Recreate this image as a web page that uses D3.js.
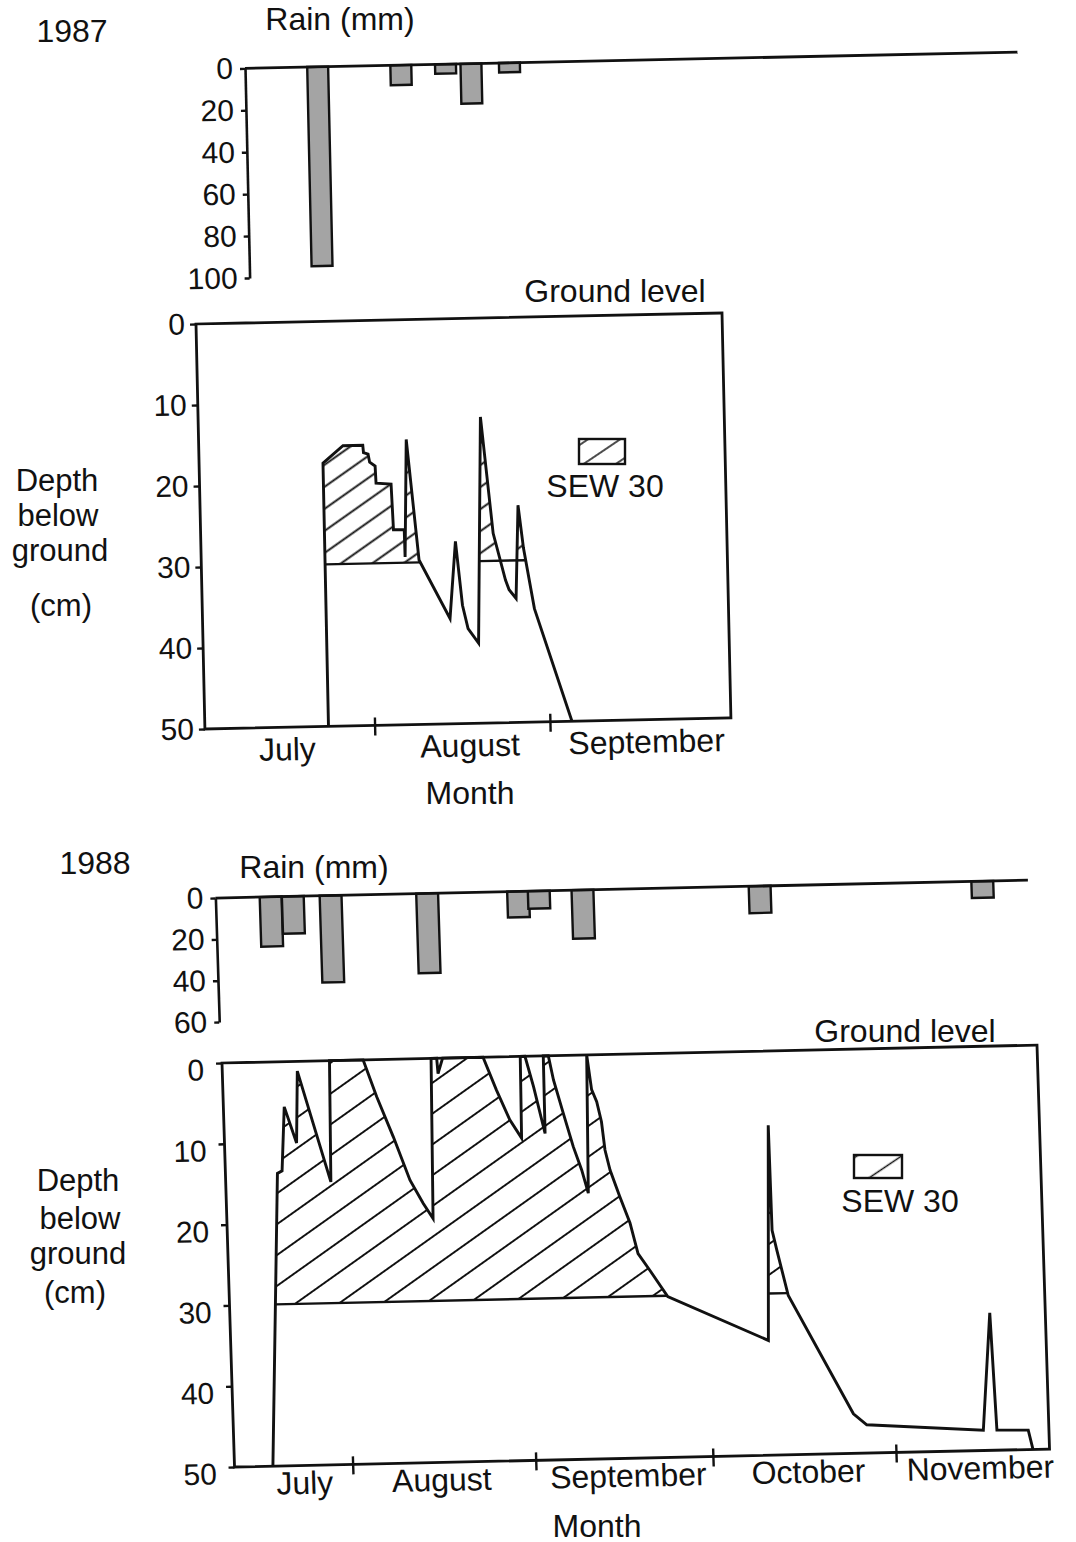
<!DOCTYPE html>
<html>
<head>
<meta charset="utf-8">
<script src="https://cdn.jsdelivr.net/npm/d3@7"></script>
<style>
  body { margin: 0; background: #fff; }
  text { font-family: "Liberation Sans", Arial, Helvetica, sans-serif; fill: #111; }
</style>
</head>
<body>
<svg id="chart" width="1076" height="1542"></svg>
<script>
// ---------------- data: 1987 ----------------
// rain events as [month, day-of-month] and totals in mm
const rain1987Dates = [[7, 24.5], [8, 8.2], [8, 16.1], [8, 20.6], [8, 27.4]];
const rain1987Values = [95, 9.5, 4.5, 19, 4.5];
const rain1987Ticks = [0, 20, 40, 60, 80, 100];

// water-table depth below ground: [month, day-of-month, depth cm]
const watertable1987 = [
  [7, 23.85, 50], [7, 23.9, 17.5], [7, 27.5, 15.4], [7, 31.0, 15.4], [7, 31.1, 16.3],
  [7, 31.9, 16.5], [8, 1.15, 17.5], [8, 2.1, 18.0], [8, 2.2, 20.1], [8, 4.85, 20.25],
  [8, 5.1, 25.9], [8, 7.0, 25.9], [8, 7.05, 29.3], [8, 7.7, 14.8], [8, 9.5, 29.7],
  [8, 14.75, 37.0], [8, 16.0, 27.5], [8, 17.0, 35.4], [8, 17.9, 38.3], [8, 19.7, 40.1],
  [8, 20.9, 12.2], [8, 22.7, 26.6], [8, 24.7, 32.4], [8, 25.3, 33.6], [8, 26.5, 34.7],
  [8, 27.2, 23.2], [8, 28.0, 28.5], [8, 29.7, 36.0], [9, 4.9, 50]
];
// periods over which the excess above 30 cm (SEW30) is counted
const sewWindows1987 = [[[7, 20], [8, 12]], [[8, 19], [9, 1]]];
const monthTicks1987 = [[8, 1], [9, 1]];
const monthNames1987 = ["July", "August", "September"];
const monthLabelDates1987 = [[7, 16.5], [8, 17.8], [9, 18]];

// ---------------- data: 1988 ----------------
const rain1988Dates = [[7, 21.1], [7, 24.85], [7, 31.25], [8, 16.6], [9, 1.0], [9, 4.5], [9, 11.9], [10, 11.9], [11, 18.6]];
const rain1988Values = [24, 18, 42, 38.5, 12.5, 8.5, 23.5, 13, 8];
const rain1988Ticks = [0, 20, 40, 60];

const watertable1988 = [
  [7, 18.5, 50], [7, 20.8, 13.8], [7, 21.6, 13.5], [7, 22.3, 5.6], [7, 24.2, 10.1],
  [7, 24.7, 1.2], [7, 29.8, 15.0], [7, 30.2, 0], [8, 4.9, 0], [8, 7.0, 4.6],
  [8, 9.6, 9.6], [8, 12.2, 15.0], [8, 14.3, 17.9], [8, 15.9, 19.8], [8, 16.4, 0],
  [8, 17.35, 0], [8, 17.5, 1.9], [8, 18.35, 0], [8, 25.2, 0], [8, 27.3, 4.1],
  [8, 29.4, 7.8], [8, 31.3, 10.1], [8, 31.5, 0], [9, 1.3, 0], [9, 2.6, 3.8],
  [9, 4.3, 9.6], [9, 4.4, 0], [9, 5.25, 0], [9, 6.0, 3.0], [9, 7.5, 7.2],
  [9, 9.0, 11.3], [9, 10.3, 14.2], [9, 11.3, 17.1], [9, 11.75, 0], [9, 12.4, 4.3],
  [9, 13.2, 5.8], [9, 13.9, 8.3], [9, 14.35, 11.8], [9, 15.1, 14.3], [9, 16.6, 17.6],
  [9, 18.2, 20.9], [9, 19.4, 24.7], [9, 21.3, 26.8], [9, 24.2, 30.1], [10, 11.0, 35.8],
  [10, 12.1, 9.2], [10, 12.2, 22.2], [10, 12.9, 24.65], [10, 14.6, 30.3], [10, 25.0, 45.1],
  [10, 27.2, 46.5], [11, 15.9, 47.5], [11, 17.6, 33.0], [11, 18.2, 47.5], [11, 23.5, 47.6],
  [11, 24.2, 50]
];
const sewWindows1988 = [[[7, 15], [9, 30]], [[10, 5], [10, 20]]];
const monthTicks1988 = [[8, 1], [9, 1], [10, 1], [11, 1]];
const monthNames1988 = ["July", "August", "September", "October", "November"];
const monthLabelDates1988 = [[7, 23.8], [8, 16], [9, 16.6], [10, 17.1], [11, 15.2]];

const depthTicks = [0, 10, 20, 30, 40, 50];
const SEW_LEVEL = 30;
const BAR_DAYS = 3.7;

// ---------------- helpers ----------------
const DAY = 864e5;
const at = (year, md) => new Date(Date.UTC(year, md[0] - 1, 1) + (md[1] - 1) * DAY);

const svg = d3.select("#chart");
svg.append("rect").attr("width", 1076).attr("height", 1542).attr("fill", "#fff");
const defs = svg.append("defs");

function hatchPattern(id, gap) {
  const p = defs.append("pattern")
    .attr("id", id)
    .attr("patternUnits", "userSpaceOnUse")
    .attr("width", 60).attr("height", gap)
    .attr("patternTransform", "rotate(-34)");
  p.append("line")
    .attr("x1", 0).attr("x2", 60)
    .attr("y1", gap / 2).attr("y2", gap / 2)
    .attr("stroke", "#111").attr("stroke-width", 1.7);
}
hatchPattern("hatch1987", 18);
hatchPattern("hatch1988", 25);

// runs of the curve lying above (shallower than) the level, with crossing points inserted
function excursions(series, level) {
  const runs = [];
  let cur = null;
  series.forEach((p, i) => {
    const above = p.d < level;
    const prev = series[i - 1];
    if (prev) {
      const prevAbove = prev.d < level;
      if (above !== prevAbove) {
        const f = (level - prev.d) / (p.d - prev.d);
        const c = { t: new Date(+prev.t + f * (p.t - prev.t)), d: level };
        if (above) cur = [c];
        else { cur.push(c); runs.push(cur); cur = null; }
      }
    } else if (above) cur = [];
    if (above) cur.push(p);
  });
  if (cur) runs.push(cur);
  return runs;
}

function styleAxis(sel, fontSize) {
  sel.attr("font-family", null).attr("font-size", null);
  sel.selectAll("text").attr("font-size", fontSize).attr("fill", "#111");
  sel.selectAll("line").attr("stroke", "#111").attr("stroke-width", 2.4);
  sel.selectAll("path.domain").attr("stroke", "#111").attr("stroke-width", 2.6);
}

function drawPanel(cfg) {
  const g = svg.append("g").attr("transform", `matrix(${cfg.frame.join(",")})`);
  const x = d3.scaleUtc()
    .domain([at(cfg.year, cfg.xStart), at(cfg.year, cfg.xEnd)])
    .range([0, cfg.W]);
  const y = d3.scaleLinear().domain([0, 50]).range([0, cfg.H]);
  const r = d3.scaleLinear()
    .domain([0, cfg.rainMax])
    .range([cfg.rainTop, cfg.rainTop + cfg.rainMax * cfg.rainPx]);

  // ---- rainfall bars, hanging from the zero line ----
  const bars = cfg.rainDates.map((d, i) => ({ t: at(cfg.year, d), v: cfg.rainValues[i] }));
  const half = BAR_DAYS / 2 * DAY;
  g.append("g").selectAll("rect").data(bars).join("rect")
    .attr("x", d => x(new Date(+d.t - half)))
    .attr("width", d => x(new Date(+d.t + half)) - x(new Date(+d.t - half)))
    .attr("y", r(0))
    .attr("height", d => r(d.v) - r(0))
    .attr("fill", "#a4a4a4")
    .attr("stroke", "#111").attr("stroke-width", 2.4);

  g.append("line")
    .attr("x1", cfg.rainAxisU).attr("x2", cfg.rainEndU)
    .attr("y1", r(0)).attr("y2", r(0))
    .attr("stroke", "#111").attr("stroke-width", 2.8);

  const rainAxis = g.append("g")
    .attr("transform", `translate(${cfg.rainAxisU},0)`)
    .call(d3.axisLeft(r).tickValues(cfg.rainTicks).tickSize(5).tickSizeOuter(0).tickPadding(7));
  styleAxis(rainAxis, 30);

  // ---- water table with SEW30 hatching ----
  const series = cfg.watertable.map(d => ({ t: at(cfg.year, [d[0], d[1]]), d: d[2] }));
  const runs = excursions(series, SEW_LEVEL);
  const area = d3.area().x(p => x(p.t)).y0(y(SEW_LEVEL)).y1(p => y(p.d));

  cfg.sewWindows.forEach(w => {
    const t0 = at(cfg.year, w[0]), t1 = at(cfg.year, w[1]);
    const inside = runs.filter(run => run[0].t >= t0 && run[0].t <= t1);
    if (!inside.length) return;
    inside.forEach(run => {
      g.append("path").attr("d", area(run))
        .attr("fill", `url(#${cfg.hatchId})`).attr("stroke", "none");
    });
    const first = inside[0][0].t;
    const last = inside[inside.length - 1][inside[inside.length - 1].length - 1].t;
    g.append("line")
      .attr("x1", x(first)).attr("x2", x(last))
      .attr("y1", y(SEW_LEVEL)).attr("y2", y(SEW_LEVEL))
      .attr("stroke", "#111").attr("stroke-width", 2.4);
  });

  g.append("path")
    .datum(series)
    .attr("d", d3.line().x(p => x(p.t)).y(p => y(p.d)))
    .attr("fill", "none")
    .attr("stroke", "#111").attr("stroke-width", 2.9)
    .attr("stroke-linejoin", "miter");

  // ---- frame: ground level on top, axes left and bottom ----
  g.append("rect")
    .attr("x", 0).attr("y", 0).attr("width", cfg.W).attr("height", cfg.H)
    .attr("fill", "none").attr("stroke", "#111").attr("stroke-width", 2.8);

  const depthAxis = g.append("g")
    .call(d3.axisLeft(y).tickValues(depthTicks).tickSize(6).tickPadding(cfg.tickPad));
  depthAxis.select("path.domain").remove();
  styleAxis(depthAxis, 30);
  depthAxis.selectAll("text").attr("dy", `${0.32 * 30 + cfg.labelDy}px`);

  const monthAxis = g.append("g")
    .attr("transform", `translate(0,${cfg.H})`)
    .call(d3.axisBottom(x).tickValues(cfg.monthTicks.map(m => at(cfg.year, m))).tickFormat("").tickSize(10));
  monthAxis.select("path.domain").remove();
  styleAxis(monthAxis, 30);
  monthAxis.selectAll("line").attr("y1", -8);

  g.append("g").selectAll("text").data(cfg.monthNames).join("text")
    .attr("x", (d, i) => x(at(cfg.year, cfg.monthLabelDates[i])))
    .attr("y", cfg.H + cfg.monthLabelOffset)
    .attr("text-anchor", "middle")
    .attr("font-size", 32)
    .text(d => d);
}

drawPanel({
  year: 1987,
  frame: [1, -0.021, 0.022, 1, 196, 324],
  W: 526, H: 405,
  xStart: [7, 2], xEnd: [10, 3],
  rainDates: rain1987Dates, rainValues: rain1987Values, rainTicks: rain1987Ticks,
  rainMax: 100, rainTop: -254.5, rainPx: 2.096, rainAxisU: 54.6, rainEndU: 827,
  watertable: watertable1987, sewWindows: sewWindows1987, hatchId: "hatch1987",
  tickPad: 5, labelDy: 0,
  monthTicks: monthTicks1987, monthNames: monthNames1987, monthLabelDates: monthLabelDates1987,
  monthLabelOffset: 33
});

drawPanel({
  year: 1988,
  frame: [1, -0.022, 0.031, 1, 222, 1063],
  W: 815, H: 404,
  xStart: [7, 12], xEnd: [11, 27],
  rainDates: rain1988Dates, rainValues: rain1988Values, rainTicks: rain1988Ticks,
  rainMax: 60, rainTop: -165, rainPx: 2.067, rainAxisU: -1.5, rainEndU: 811,
  watertable: watertable1988, sewWindows: sewWindows1988, hatchId: "hatch1988",
  tickPad: 12, labelDy: 7,
  monthTicks: monthTicks1988, monthNames: monthNames1988, monthLabelDates: monthLabelDates1988,
  monthLabelOffset: 28.5
});

// ---- titles, axis names and legends ----
const labels = [
  ["1987", 72, 41.5, 32], ["Rain (mm)", 340, 30, 32], ["Ground level", 615, 301.5, 32],
  ["Depth", 57, 491, 31], ["below", 58, 526, 31], ["ground", 60, 561, 31], ["(cm)", 61, 616, 31],
  ["Month", 470, 803.5, 32], ["SEW 30", 605, 496.5, 32],
  ["1988", 95, 873.5, 32], ["Rain (mm)", 314, 878, 32], ["Ground level", 905, 1041.5, 32],
  ["Depth", 78, 1191, 31], ["below", 80, 1229, 31], ["ground", 78, 1264, 31], ["(cm)", 75, 1303, 31],
  ["Month", 597, 1536.5, 32], ["SEW 30", 900, 1211.5, 32]
];
svg.append("g").selectAll("text").data(labels).join("text")
  .attr("x", d => d[1]).attr("y", d => d[2])
  .attr("text-anchor", "middle")
  .attr("font-size", d => d[3])
  .text(d => d[0]);

const swatches = [
  { x: 579, y: 439, w: 46, h: 25, id: "hatch1987" },
  { x: 854, y: 1155, w: 48, h: 23, id: "hatch1988" }
];
svg.append("g").selectAll("rect").data(swatches).join("rect")
  .attr("x", d => d.x).attr("y", d => d.y)
  .attr("width", d => d.w).attr("height", d => d.h)
  .attr("fill", d => `url(#${d.id})`)
  .attr("stroke", "#111").attr("stroke-width", 2.4);
</script>
</body>
</html>
